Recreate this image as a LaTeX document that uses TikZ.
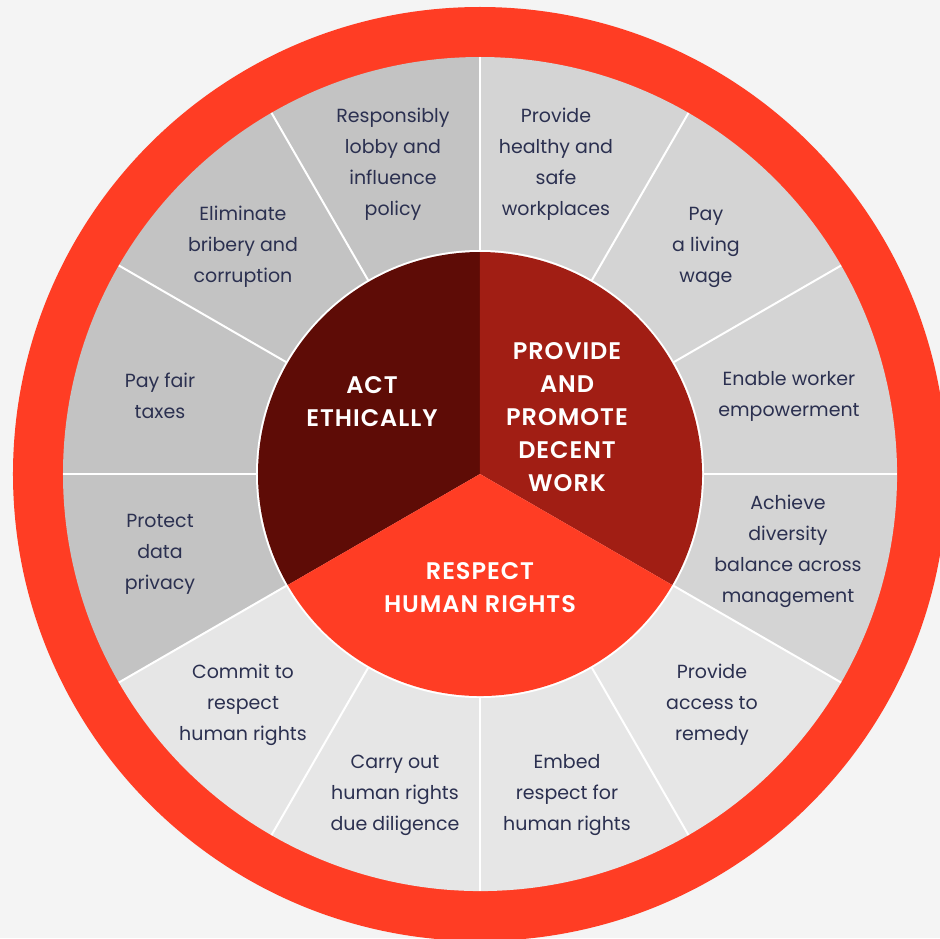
\documentclass[tikz,border=0pt]{standalone}
\usepackage{fontspec}
\setmainfont{Poppins}
\newfontfamily\corefont{Poppins SemiBold}[LetterSpace=4]

\definecolor{paper}{HTML}{F4F4F4}
\definecolor{ringred}{HTML}{FF3D24}
\definecolor{greyA}{HTML}{C3C3C3}
\definecolor{greyB}{HTML}{D4D4D4}
\definecolor{greyC}{HTML}{E6E6E6}
\definecolor{ethicred}{HTML}{5E0C06}
\definecolor{workred}{HTML}{A11E14}
\definecolor{rightsred}{HTML}{FF3D24}
\definecolor{labelink}{HTML}{2B3050}

\tikzset{
  seg/.style={align=center, text=labelink, font=\fontsize{19}{31}\selectfont},
  core/.style={align=center, text=white, font=\corefont\fontsize{24}{33}\selectfont},
  split/.style={white, line width=2}
}

\begin{document}
\begin{tikzpicture}[x=1pt, y=1pt]
	\useasboundingbox (-480, -464) rectangle (460, 474);
	\clip (-480, -464) rectangle (460, 474);
	\fill[paper] (-480, -464) rectangle (460, 474);

	\coordinate (c) at (0, 0);

	% red ring and grey wheel
	\fill[ringred] (c) circle (467);
	\fill[greyA] (c) -- (90:417) arc (90:210:417) -- cycle;
	\fill[greyB] (c) -- (-30:417) arc (-30:90:417) -- cycle;
	\fill[greyC] (c) -- (210:417) arc (210:330:417) -- cycle;

	\foreach \a in {0, 30, ..., 330}
		\draw[split] (c) -- (\a:417);

	% inner pie
	\fill[white] (c) circle (224);
	\fill[ethicred] (c) -- (90:222) arc (90:210:222) -- cycle;
	\fill[workred] (c) -- (-30:222) arc (-30:90:222) -- cycle;
	\fill[rightsred] (c) -- (210:222) arc (210:330:222) -- cycle;

	\node[core] (ethic) at (-108, 72) {ACT\\ETHICALLY};
	\node[core] (work) at (87, 57) {PROVIDE\\AND\\PROMOTE\\DECENT\\WORK};
	\node[core] (rights) at (0, -114) {RESPECT\\HUMAN RIGHTS};

	% outer labels
	\node[seg] (lobby) at (-87, 310) {Responsibly\\lobby and\\influence\\policy};
	\node[seg] (safe) at (76, 310) {Provide\\healthy and\\safe\\workplaces};
	\node[seg] (wage) at (226, 227) {Pay\\a living\\wage};
	\node[seg] (empower) at (309, 78) {Enable worker\\empowerment};
	\node[seg] (diverse) at (308, -77) {Achieve\\diversity\\balance across\\management};
	\node[seg] (remedy) at (232, -231) {Provide\\access to\\remedy};
	\node[seg] (embed) at (87, -321) {Embed\\respect for\\human rights};
	\node[seg] (diligence) at (-85, -321) {Carry out\\human rights\\due diligence};
	\node[seg] (commit) at (-237, -231) {Commit to\\respect\\human rights};
	\node[seg] (privacy) at (-320, -80) {Protect\\data\\privacy};
	\node[seg] (taxes) at (-320, 78) {Pay fair\\taxes};
	\node[seg] (bribery) at (-237, 227) {Eliminate\\bribery and\\corruption};
\end{tikzpicture}
\end{document}
